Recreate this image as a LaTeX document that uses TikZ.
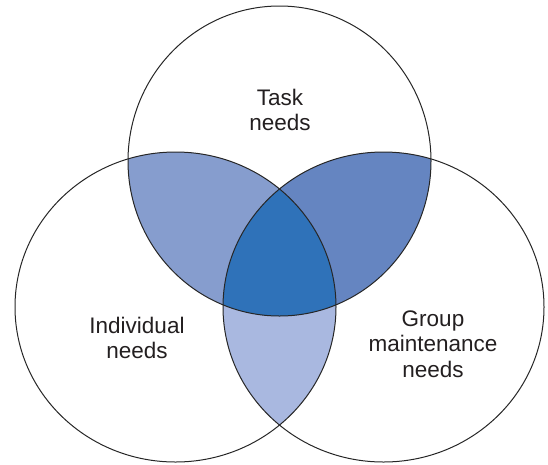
\documentclass[tikz,border=0pt]{standalone}
\usepackage{fontspec}
\setmainfont{Liberation Sans}
\definecolor{tl}{HTML}{869DCE}
\definecolor{tr}{HTML}{6585C1}
\definecolor{ctr}{HTML}{2F72B9}
\definecolor{lr}{HTML}{A9B8E0}
\definecolor{txt}{HTML}{231F20}
\begin{document}
\begin{tikzpicture}[x=1pt,y=-1pt,
  ring/.style={draw=black!85,line width=1pt},
  lbl/.style={align=center,text=txt,font=\fontsize{22.5}{25.5}\selectfont,inner sep=0pt}]
\useasboundingbox (0,0) rectangle (548,464);
\def\shT{ellipse [x radius=151.5, y radius=155]}
\def\shS{ellipse [x radius=160.5, y radius=155]}
\coordinate (T) at (279.5,161);
\coordinate (L) at (175.5,307);
\coordinate (R) at (383.5,307);
% pairwise overlaps
\begin{scope}
  \clip (T) \shT;
  \fill[tl] (L) \shS;
  \fill[tr] (R) \shS;
\end{scope}
\begin{scope}
  \clip (L) \shS;
  \fill[lr] (R) \shS;
\end{scope}
\begin{scope}
  \clip (T) \shT;
  \clip (L) \shS;
  \fill[ctr] (R) \shS;
\end{scope}
% outlines
\draw[ring] (T) \shT;
\draw[ring] (L) \shS;
\draw[ring] (R) \shS;
% labels
\node[lbl] (task) at (280,110) {Task\\needs};
\node[lbl] (ind) at (137,338) {Individual\\needs};
\node[lbl] (grp) at (433,344) {Group\\maintenance\\needs};
\end{tikzpicture}
\end{document}
